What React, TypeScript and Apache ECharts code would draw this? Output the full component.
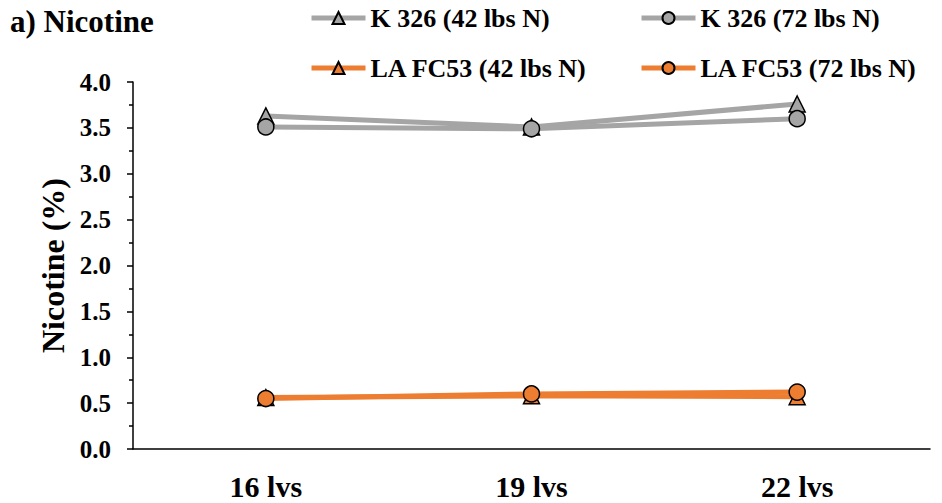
import React, { useEffect, useRef } from "react";
import * as echarts from "echarts";

const categories = ["16 lvs", "19 lvs", "22 lvs"];
const k326_42 = [3.63, 3.51, 3.76];
const k326_72 = [3.51, 3.49, 3.6];
const la_42 = [0.56, 0.58, 0.57];
const la_72 = [0.55, 0.6, 0.62];
const seriesNames = [
  "K 326 (42 lbs N)",
  "K 326 (72 lbs N)",
  "LA FC53 (42 lbs N)",
  "LA FC53 (72 lbs N)",
];

const FONT = "Liberation Serif";
const GRAY = "#A5A5A5";
const ORANGE = "#ED7D31";

export default function App() {
  const ref = useRef<HTMLDivElement>(null);
  useEffect(() => {
    const chart = echarts.init(ref.current!, null, { renderer: "svg" });
    const mk = (name: string, data: number[], color: string, symbol: string) => ({
      name,
      type: "line",
      data,
      symbol,
      symbolSize: 16,
      showSymbol: true,
      lineStyle: { color, width: 5 },
      itemStyle: { color, borderColor: "#000", borderWidth: 1.5 },
      z: 2,
    });
    const legendBase = {
      itemWidth: 54,
      itemHeight: 15,
      padding: 0,
      lineStyle: { width: 5 },
      textStyle: { fontFamily: FONT, fontWeight: "bold", fontSize: 26, color: "#000" },
      itemGap: 4,
    };
    chart.setOption({
      animation: false,
      title: {
        text: "a) Nicotine",
        left: 10,
        top: 6,
        padding: 0,
        textStyle: { fontFamily: FONT, fontWeight: "bold", fontSize: 31, color: "#000" },
      },
      legend: [
        { ...legendBase, data: [seriesNames[0]], left: 309, top: 5 },
        { ...legendBase, data: [seriesNames[1]], left: 639, top: 5 },
        { ...legendBase, data: [seriesNames[2]], left: 309, top: 55 },
        { ...legendBase, data: [seriesNames[3]], left: 639, top: 55 },
      ],
      grid: { left: 133, right: 12, top: 82, bottom: 54, containLabel: false },
      xAxis: {
        type: "category",
        data: categories,
        boundaryGap: true,
        axisLine: { lineStyle: { color: "#000", width: 1.5 } },
        axisTick: { alignWithLabel: true, length: 6, lineStyle: { color: "#000", width: 1.5 } },
        axisLabel: {
          fontFamily: FONT,
          fontWeight: "bold",
          fontSize: 30,
          lineHeight: 30,
          color: "#000",
          margin: 22,
        },
        splitLine: { show: false },
      },
      yAxis: {
        type: "value",
        min: 0,
        max: 4,
        interval: 0.5,
        name: "Nicotine (%)",
        nameLocation: "middle",
        nameGap: 58,
        nameTextStyle: { fontFamily: FONT, fontWeight: "bold", fontSize: 32, color: "#000" },
        axisLine: { show: true, lineStyle: { color: "#000", width: 1.5 } },
        axisTick: { show: true, length: 6, lineStyle: { color: "#000", width: 1.5 } },
        minorTick: { show: true, splitNumber: 2, length: 4, lineStyle: { color: "#000", width: 1.5 } },
        axisLabel: {
          fontFamily: FONT,
          fontWeight: "bold",
          fontSize: 25,
          color: "#000",
          margin: 22,
          formatter: (v: number) => v.toFixed(1),
        },
        splitLine: { show: false },
      },
      series: [
        mk(seriesNames[0], k326_42, GRAY, "triangle"),
        mk(seriesNames[1], k326_72, GRAY, "circle"),
        mk(seriesNames[2], la_42, ORANGE, "triangle"),
        mk(seriesNames[3], la_72, ORANGE, "circle"),
      ],
    });
    return () => chart.dispose();
  }, []);
  return <div ref={ref} style={{ width: 942, height: 503, position: "absolute", left: 0, top: 0 }} />;
}
